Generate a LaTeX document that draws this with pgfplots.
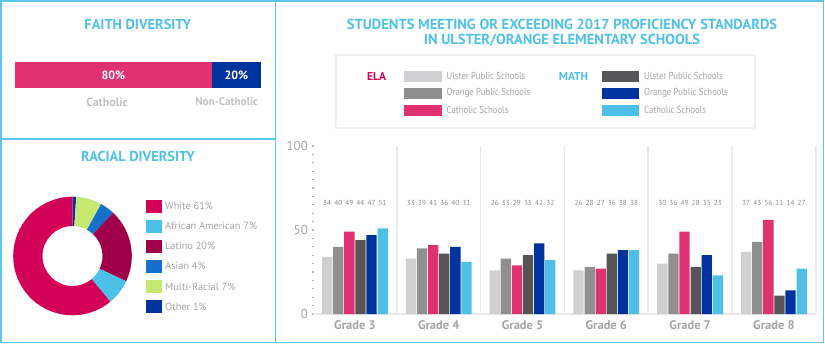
\documentclass[border=0pt]{standalone}
\usepackage{pgfplots}
\pgfplotsset{compat=1.18}
\usepackage{pgfplotstable}
\usepackage{fontspec}
\setmainfont{PT Sans}
\newfontfamily\condfont[FakeStretch=0.86]{PT Sans}
\newcommand\fs[1]{\fontsize{#1}{#1}\selectfont}
\definecolor{bcol}{HTML}{5CC6EC}
\definecolor{tblue}{HTML}{4FC1E9}
\definecolor{uela}{HTML}{D0D0D2}
\definecolor{oela}{HTML}{8F8F8F}
\definecolor{cela}{HTML}{E03270}
\definecolor{umath}{HTML}{555557}
\definecolor{omath}{HTML}{0033A0}
\definecolor{cmath}{HTML}{4EC0E7}
\definecolor{rwhite}{HTML}{D30058}
\definecolor{rafr}{HTML}{4DC0E8}
\definecolor{rlat}{HTML}{A0004A}
\definecolor{rasian}{HTML}{1570CC}
\definecolor{rmulti}{HTML}{C6E870}
\definecolor{roth}{HTML}{0033A0}
\definecolor{txtg}{HTML}{A4A4A4}
\definecolor{lblg}{HTML}{C2C2C2}
\definecolor{valg}{HTML}{8A8A8A}
\definecolor{elapink}{HTML}{D5005B}

\pgfplotstableread{
x uela oela cela umath omath cmath
0 34 40 49 44 47 51
1 33 39 41 36 40 31
2 26 33 29 35 42 32
3 26 28 27 36 38 38
4 30 36 49 28 35 23
5 37 43 56 11 14 27
}\profdata

\begin{document}
\begin{tikzpicture}[x=1bp,y=1bp]
\useasboundingbox (0,0) rectangle (825,344);
% panel borders
\draw[bcol, line width=1.6bp] (0.8,1.5) rectangle (823.5,343);
\draw[bcol, line width=1.6bp] (275.5,1.5) -- (275.5,343);
\draw[bcol, line width=1.6bp] (0.8,205) -- (275.5,205);

% ---------- Faith diversity ----------
\node[text=tblue, font=\fs{14.4}\bfseries] at (137.8,320) {FAITH DIVERSITY};
\begin{axis}[at={(15bp,256bp)}, anchor=south west, scale only axis,
  width=246bp, height=26bp, xmin=0, xmax=100, ymin=-0.5, ymax=0.5,
  hide axis, xbar stacked, bar width=26bp, clip=false]
\addplot[fill=cela, draw=none] coordinates {(80,0)};
\addplot[fill=omath, draw=none] coordinates {(20,0)};
\end{axis}
\node[text=white, font=\fs{12}\bfseries] at (113.4,269) {80\%};
\node[text=white, font=\fs{12}\bfseries] at (236.4,269) {20\%};
\node[text=lblg, font=\fs{12}\bfseries] at (107,242) {Catholic};
\node[text=lblg, font=\fs{11.3}\bfseries, anchor=east] at (261.5,242) {Non-Catholic};

% ---------- Racial diversity ----------
\node[text=tblue, font=\fs{14.4}\bfseries] at (138,187.3) {RACIAL DIVERSITY};
\begin{scope}[shift={(72.5,88)}]
\def\ang{90}
\foreach \v/\c in {1/roth, 7/rmulti, 4/rasian, 20/rlat, 7/rafr, 61/rwhite}{
  \pgfmathsetmacro\e{\ang-\v*3.6}
  \fill[\c] (\ang:59.3) arc[start angle=\ang, end angle=\e, radius=59.3]
     -- (\e:30) arc[start angle=\e, end angle=\ang, radius=30] -- cycle;
  \xdef\ang{\e}
}
\end{scope}
\foreach \c/\t [count=\i from 0] in {rwhite/White 61\%, rafr/African American 7\%, rlat/Latino 20\%, rasian/Asian 4\%, rmulti/Multi-Racial 7\%, roth/Other 1\%}{
  \fill[\c] (145.7,{138-20.1*\i-6.5}) rectangle (162.3,{138-20.1*\i+6.5});
  \node[anchor=west, text=txtg, font=\fs{10.4}, inner sep=0pt] at (165,{138-20.1*\i}) {\t};
}

% ---------- Main chart ----------
\node[text=tblue, font=\fs{14.6}\bfseries] at (562,320) {STUDENTS MEETING OR EXCEEDING 2017 PROFICIENCY STANDARDS};
\node[text=tblue, font=\fs{14.6}\bfseries] at (562,304) {IN ULSTER/ORANGE ELEMENTARY SCHOOLS};
% legend
\draw[gray!12, line width=1.2bp] (336,216) rectangle (755,289);
\node[anchor=west, text=elapink, font=\fs{11.5}\bfseries, inner sep=0pt] at (367,268) {ELA};
\node[anchor=west, text=cmath, font=\fs{11.5}\bfseries, inner sep=0pt] at (558.7,268) {MATH};
\foreach \c/\t [count=\i from 0] in {uela/Ulster Public Schools, oela/Orange Public Schools, cela/Catholic Schools}{
  \fill[\c] (404,{267.7-16.85*\i-5.5}) rectangle (442,{267.7-16.85*\i+5.5});
  \node[anchor=west, text=txtg, font=\condfont\fs{10.2}, inner sep=0pt] at (446.5,{267.7-16.85*\i}) {\t};
}
\foreach \c/\t [count=\i from 0] in {umath/Ulster Public Schools, omath/Orange Public Schools, cmath/Catholic Schools}{
  \fill[\c] (601.7,{267.7-16.85*\i-5.5}) rectangle (639.3,{267.7-16.85*\i+5.5});
  \node[anchor=west, text=txtg, font=\condfont\fs{10.2}, inner sep=0pt] at (644,{267.7-16.85*\i}) {\t};
}

\begin{axis}[at={(313bp,30bp)}, anchor=south west, scale only axis,
  width=502.8bp, height=168bp,
  xmin=-0.5, xmax=5.5, ymin=0, ymax=100, clip=false,
  /pgf/number format/assume math mode=true,
  axis x line*=bottom, axis y line*=left,
  x axis line style={draw=gray!18, line width=1.5bp, -},
  y axis line style={draw=none},
  xtick={0,...,5},
  xticklabels={Grade 3, Grade 4, Grade 5, Grade 6, Grade 7, Grade 8},
  xticklabel style={text=txtg, font=\fs{12.5}\bfseries, yshift=-2bp},
  major x tick style={draw=none},
  minor xtick={0.5,1.5,2.5,3.5,4.5,5.5},
  minor x tick style={draw=none},
  xminorgrids=true,
  minor grid style={draw=gray!16, line width=1.5bp},
  ytick={0,50,100},
  minor ytick={5,10,...,95},
  yticklabel style={text=txtg, font=\fs{13}, xshift=-1bp},
  y tick style={draw=gray!60, line width=1.3bp},
  major tick length=1.3bp, minor tick length=1.3bp,
  tick align=center,
  every node near coord/.style={anchor=center, text=valg, font=\fs{7.3}},
]
\addplot[ybar, bar width=0.123, fill=uela, draw=none] table[x expr=\thisrow{x}-0.33125, y=uela] {\profdata};
\addplot[ybar, bar width=0.123, fill=oela, draw=none] table[x expr=\thisrow{x}-0.19875, y=oela] {\profdata};
\addplot[ybar, bar width=0.123, fill=cela, draw=none] table[x expr=\thisrow{x}-0.06625, y=cela] {\profdata};
\addplot[ybar, bar width=0.123, fill=umath, draw=none] table[x expr=\thisrow{x}+0.06625, y=umath] {\profdata};
\addplot[ybar, bar width=0.123, fill=omath, draw=none] table[x expr=\thisrow{x}+0.19875, y=omath] {\profdata};
\addplot[ybar, bar width=0.123, fill=cmath, draw=none] table[x expr=\thisrow{x}+0.33125, y=cmath] {\profdata};
% value labels row
\addplot[draw=none, nodes near coords, point meta=explicit] table[x expr=\thisrow{x}-0.33125, y expr=66, meta=uela] {\profdata};
\addplot[draw=none, nodes near coords, point meta=explicit] table[x expr=\thisrow{x}-0.19875, y expr=66, meta=oela] {\profdata};
\addplot[draw=none, nodes near coords, point meta=explicit] table[x expr=\thisrow{x}-0.06625, y expr=66, meta=cela] {\profdata};
\addplot[draw=none, nodes near coords, point meta=explicit] table[x expr=\thisrow{x}+0.06625, y expr=66, meta=umath] {\profdata};
\addplot[draw=none, nodes near coords, point meta=explicit] table[x expr=\thisrow{x}+0.19875, y expr=66, meta=omath] {\profdata};
\addplot[draw=none, nodes near coords, point meta=explicit] table[x expr=\thisrow{x}+0.33125, y expr=66, meta=cmath] {\profdata};
\end{axis}
\end{tikzpicture}
\end{document}
